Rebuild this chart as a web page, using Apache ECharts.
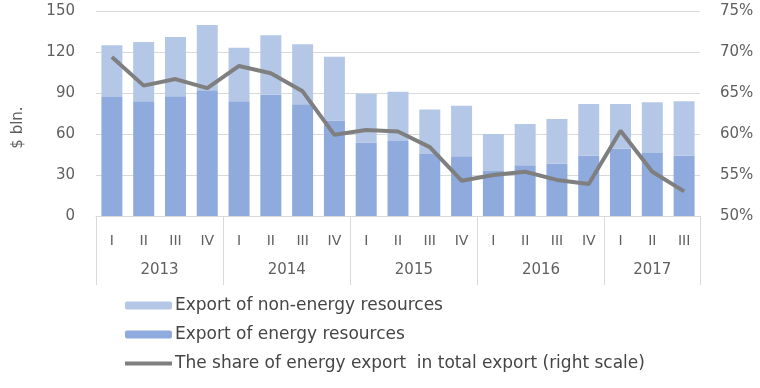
<!DOCTYPE html>
<html>
<head>
<meta charset="utf-8">
<script src="https://cdn.jsdelivr.net/npm/echarts@6/dist/echarts.min.js"></script>
<style>html,body{margin:0;padding:0;background:#fff}#c{width:760px;height:388px}</style>
</head>
<body>
<div id="c"></div>
<script>
const quarters = ['I','II','III','IV','I','II','III','IV','I','II','III','IV','I','II','III','IV','I','II','III'];
const years = ['2013','2014','2015','2016','2017'];
const yearSizes = [4,4,4,4,3];
const energy = [87,83.9,87.6,92,83.9,88.8,81.7,69.8,53.7,54.9,45.4,43.7,32.9,37.1,38.3,44.1,49.3,46.1,44.1];
const nonEnergy = [38,43.4,43.4,47.8,39.3,43.4,43.9,46.8,35.8,36.1,32.6,37,27.1,30.2,32.7,37.9,32.7,37.1,39.8];
const share = [69.4,65.9,66.7,65.6,68.3,67.4,65.2,59.9,60.5,60.3,58.4,54.3,55.0,55.4,54.4,53.9,60.4,55.4,53.0];
const leftTicks = {min:0,max:150,interval:30};
const rightTicks = {min:50,max:75,interval:5};

// group boundaries and centers on a 0..n scale
const bounds = [0]; const centers = [];
yearSizes.forEach(s => { const b = bounds[bounds.length-1]; centers.push(b + s/2); bounds.push(b + s); });

const FONT = 'DejaVu Sans';
const AX = '#5f5f5f';
const chart = echarts.init(document.getElementById('c'), null, {renderer:'canvas'});
chart.setOption({
  animation:false,
  textStyle:{fontFamily:FONT},
  grid:{left:96,right:60,top:11,bottom:172},
  legend:{
    orient:'vertical', left:118, top:292, itemGap:12, itemWidth:47, itemHeight:8,
    textStyle:{fontSize:17,color:'#454545',fontFamily:FONT,padding:[0,0,0,-2]},
    data:['Export of non-energy resources','Export of energy resources',
      {name:'The share of energy export  in total export (right scale)',itemStyle:{opacity:0},lineStyle:{width:4}}]
  },
  xAxis:[
    {type:'category',data:quarters,gridIndex:0,
     axisLine:{show:true,lineStyle:{color:'#d9d9d9'}},axisTick:{show:false},
     axisLabel:{color:AX,fontSize:14,margin:18,interval:0}},
    {type:'value',min:0,max:quarters.length,gridIndex:0,position:'bottom',
     axisLine:{show:false},splitLine:{show:false},
     axisTick:{show:true,customValues:bounds,length:69,lineStyle:{color:'#d9d9d9'}},
     axisLabel:{customValues:centers,margin:47,color:AX,fontSize:15,
       formatter:function(v){const i=centers.indexOf(v);return i>=0?years[i]:'';}}}
  ],
  yAxis:[
    {type:'value',min:leftTicks.min,max:leftTicks.max,interval:leftTicks.interval,
     name:'$ bln.',nameLocation:'middle',nameGap:70,nameRotate:90,
     nameTextStyle:{color:AX,fontSize:15,padding:[0,28,0,0]},
     axisLine:{show:false},axisTick:{show:false},
     axisLabel:{color:AX,fontSize:15,margin:21},
     splitLine:{lineStyle:{color:'#d9d9d9'}}},
    {type:'value',min:rightTicks.min,max:rightTicks.max,interval:rightTicks.interval,position:'right',
     axisLine:{show:false},axisTick:{show:false},splitLine:{show:false},
     axisLabel:{color:AX,fontSize:15,margin:20,formatter:'{value}%'}}
  ],
  series:[
    {name:'Export of energy resources',type:'bar',stack:'a',data:energy,
     itemStyle:{color:'#8faadc'},barCategoryGap:'34%'},
    {name:'Export of non-energy resources',type:'bar',stack:'a',data:nonEnergy,
     itemStyle:{color:'#b4c7e7'},barCategoryGap:'34%'},
    {name:'The share of energy export  in total export (right scale)',type:'line',yAxisIndex:1,data:share,
     symbol:'none',lineStyle:{color:'#7f7f7f',width:4},itemStyle:{color:'#7f7f7f'}}
  ]
});
</script>
</body>
</html>
